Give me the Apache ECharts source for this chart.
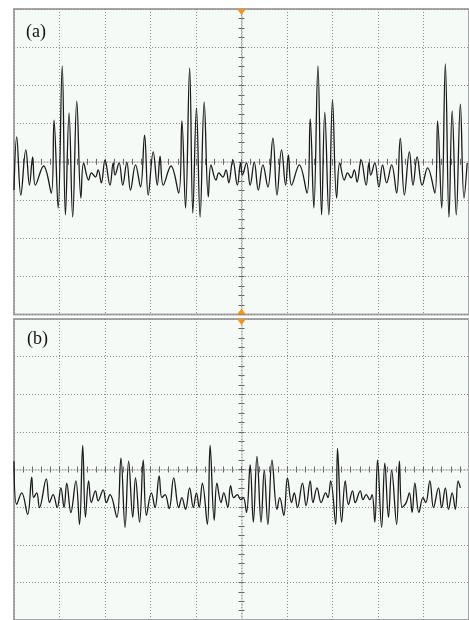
<!DOCTYPE html>
<html><head><meta charset="utf-8">
<script src="https://cdn.jsdelivr.net/npm/echarts@6.0.0/dist/echarts.min.js"></script>
<style>html,body{margin:0;padding:0;background:#fff}#c{width:469px;height:620px}</style>
</head><body><div id="c"></div>
<script>
// Panel labels
const panelLabels = ['(a)', '(b)'];

// Panel (a): time in divisions (trigger at 0), voltage in divisions
const timeA = [-5.00,-4.94,-4.85,-4.74,-4.66,-4.59,-4.53,-4.35,-4.18,-4.12,-4.03,-3.94,-3.87,-3.79,-3.71,-3.62,-3.53,-3.47,-3.36,-3.30,-3.21,-3.15,-3.08,-3.00,-2.89,-2.82,-2.78,-2.69,-2.61,-2.52,-2.44,-2.33,-2.22,
-2.13,-2.05,-1.94,-1.85,-1.79,-1.72,-1.55,-1.38,-1.31,-1.23,-1.14,-1.07,-0.99,-0.91,-0.82,-0.73,-0.67,-0.56,-0.50,-0.41,-0.34,-0.28,-0.19,-0.09,-0.02,0.02,0.11,0.19,0.28,0.37,0.47,0.58,
0.69,0.78,0.88,0.97,1.03,1.10,1.27,1.44,1.51,1.59,1.68,1.76,1.83,1.92,2.00,2.09,2.16,2.26,2.33,2.41,2.48,2.54,2.63,2.74,2.80,2.84,2.93,3.02,3.10,3.19,3.30,3.41,
3.49,3.58,3.69,3.77,3.86,3.97,4.09,4.25,4.31,4.40,4.48,4.56,4.63,4.72,4.81,4.89,4.96];
const voltA = [-0.74,0.65,-0.87,0.31,-0.61,0.13,-0.61,-0.11,-0.82,1.09,-1.21,2.51,-1.39,1.28,-1.45,1.59,-0.95,-0.03,-0.48,-0.29,-0.40,-0.21,-0.55,0.05,-0.61,-0.03,-0.35,-0.03,-0.61,-0.01,-0.74,-0.08,-0.66,
0.70,-0.87,0.26,-0.61,0.15,-0.61,-0.11,-0.82,1.07,-1.21,2.46,-1.34,1.41,-1.45,1.57,-0.92,-0.08,-0.48,-0.29,-0.40,-0.21,-0.55,0.05,-0.61,-0.03,-0.35,-0.03,-0.61,-0.01,-0.74,-0.08,-0.66,
0.62,-0.87,0.31,-0.61,0.18,-0.61,-0.08,-0.82,1.12,-1.21,2.51,-1.39,1.30,-1.39,1.62,-0.95,-0.03,-0.48,-0.29,-0.42,-0.21,-0.53,0.05,-0.61,-0.03,-0.35,-0.03,-0.66,-0.08,-0.55,-0.08,-0.82,
0.62,-0.87,0.26,-0.61,0.13,-0.61,-0.16,-0.82,1.07,-1.21,2.56,-1.45,1.33,-1.39,1.51,-0.95,-0.03];

// Panel (b)
const timeB = [-5.00,-4.94,-4.83,-4.70,-4.61,-4.57,-4.50,-4.44,-4.29,-4.22,
-4.14,-4.05,-3.97,-3.90,-3.84,-3.75,-3.64,-3.56,-3.49,-3.43,
-3.36,-3.30,-3.21,-3.15,-3.04,-2.97,-2.89,-2.74,-2.65,-2.56,
-2.48,-2.39,-2.33,-2.24,-2.16,-2.09,-1.98,-1.90,-1.81,-1.75,
-1.68,-1.59,-1.49,-1.38,-1.31,-1.23,-1.14,-1.06,-0.99,-0.93,
-0.86,-0.75,-0.69,-0.60,-0.54,-0.45,-0.39,-0.30,-0.24,-0.17,
-0.09,-0.02,0.04,0.11,0.19,0.26,0.34,0.43,0.50,0.58,
0.67,0.78,0.84,0.93,1.01,1.10,1.16,1.23,1.34,1.42,
1.51,1.57,1.66,1.75,1.85,1.90,1.96,2.07,2.11,2.20,
2.28,2.35,2.44,2.50,2.61,2.67,2.74,2.82,2.87,2.93,
2.99,3.08,3.15,3.23,3.30,3.41,3.47,3.53,3.62,3.69,
3.75,3.81,3.90,3.99,4.05,4.14,4.22,4.33,4.40,4.48,
4.55,4.63,4.70,4.76,4.81];
const voltB = [0.22,-0.93,-0.62,-1.19,-0.20,-0.75,-0.62,-1.01,-0.25,-0.88,
-0.67,-1.01,-0.49,-1.01,-0.36,-1.14,-0.30,-1.46,0.64,-1.27,
-0.30,-0.88,-0.57,-0.83,-0.54,-0.88,-0.67,-1.27,0.30,-1.54,
0.22,-1.27,-0.22,-1.40,0.25,-1.22,-0.62,-1.01,-0.17,-0.75,
-0.67,-1.04,-0.22,-1.01,-0.75,-1.06,-0.49,-1.01,-0.62,-1.01,
-0.36,-1.46,0.64,-1.35,-0.36,-0.88,-0.62,-1.01,-0.43,-0.75,
-0.67,-0.80,-0.75,-1.14,0.12,-1.40,0.35,-1.40,-0.02,-1.46,
0.25,-1.06,-0.75,-1.22,-0.22,-0.88,-0.62,-1.01,-0.36,-0.96,
-0.30,-0.88,-0.49,-0.88,-0.62,-0.75,-0.30,-1.46,0.56,-1.40,
-0.30,-0.93,-0.57,-0.88,-0.57,-0.80,-0.67,-0.80,-0.67,-1.40,
0.25,-1.54,0.17,-1.27,-0.02,-1.46,0.22,-1.01,-0.88,-0.62,
-1.14,-0.36,-1.14,-0.75,-0.88,-0.30,-1.01,-0.49,-1.01,-0.49,
-1.06,-0.62,-1.06,-0.30,-0.49];

const chart = echarts.init(document.getElementById('c'), null, {renderer: 'canvas'});
const gridCol = '#8c8c8c';
const tickCol = '#666';
const bg = '#f5faf7';

function xAxesFor(g) {
  return [
    {type:'value', gridIndex:g, min:-5, max:5, interval:1, position:'bottom',
     axisLine:{show:true, onZero:true, lineStyle:{color:'#b4b4b4', width:1.5, type:[1,2]}},
     axisTick:{show:true, inside:true, length:3, lineStyle:{color:tickCol}},
     minorTick:{show:true, splitNumber:5, length:3, lineStyle:{color:tickCol}},
     axisLabel:{show:false},
     splitLine:{show:true, lineStyle:{color:gridCol, type:[1,2], width:1}}},
    {type:'value', gridIndex:g, min:-5, max:5, interval:1, position:'top',
     axisLine:{show:false, onZero:true},
     axisTick:{show:true, inside:true, length:3, lineStyle:{color:tickCol}},
     minorTick:{show:true, splitNumber:5, length:3, lineStyle:{color:tickCol}},
     axisLabel:{show:false}, splitLine:{show:false}}
  ];
}
function yAxesFor(g) {
  return [
    {type:'value', gridIndex:g, min:-4, max:4, interval:1, position:'left',
     axisLine:{show:true, onZero:true, lineStyle:{color:'#b4b4b4', width:1.5, type:[1,2]}},
     axisTick:{show:true, inside:true, length:3, lineStyle:{color:tickCol}},
     minorTick:{show:true, splitNumber:4, length:3, lineStyle:{color:tickCol}},
     axisLabel:{show:false},
     splitLine:{show:true, lineStyle:{color:gridCol, type:[1,2], width:1}}},
    {type:'value', gridIndex:g, min:-4, max:4, interval:1, position:'right',
     axisLine:{show:false, onZero:true},
     axisTick:{show:true, inside:true, length:3, lineStyle:{color:tickCol}},
     minorTick:{show:true, splitNumber:4, length:3, lineStyle:{color:tickCol}},
     axisLabel:{show:false}, splitLine:{show:false}}
  ];
}

const triStyle = {color:'#f7941d'};
const labelStyle = {fontFamily:'Liberation Serif', fontSize:18, fontWeight:'normal', color:'#111'};

chart.setOption({
  backgroundColor:'#ffffff',
  animation:false,
  title:[
    {text:panelLabels[0], left:26, top:23, padding:0, textStyle:labelStyle},
    {text:panelLabels[1], left:27, top:330, padding:0, textStyle:labelStyle}
  ],
  grid:[
    {left:14, top:9, width:464, height:305.6, show:true, backgroundColor:bg, borderColor:'#a6a6a6', borderWidth:2},
    {left:14, top:319, width:464, height:305.6, show:true, backgroundColor:bg, borderColor:'#a6a6a6', borderWidth:2}
  ],
  xAxis: xAxesFor(0).concat(xAxesFor(1)),
  yAxis: yAxesFor(0).concat(yAxesFor(1)),
  series:[
    {type:'line', xAxisIndex:0, yAxisIndex:0, symbol:'none', smooth:0.4, z:5,
     data: timeA.map((t,i)=>[t, voltA[i]]),
     lineStyle:{color:'#1a1a1a', width:1.3},
     markPoint:{symbol:'triangle', symbolSize:[9,6], itemStyle:triStyle, label:{show:false}, silent:true,
       data:[{coord:[0,4], symbolRotate:180, symbolOffset:[0,3]}, {coord:[0,-4], symbolRotate:0, symbolOffset:[0,-3]}]}},
    {type:'line', xAxisIndex:2, yAxisIndex:2, symbol:'none', smooth:0.4, z:5,
     data: timeB.map((t,i)=>[t, voltB[i]]),
     lineStyle:{color:'#1a1a1a', width:1.3},
     markPoint:{symbol:'triangle', symbolSize:[9,6], itemStyle:triStyle, label:{show:false}, silent:true,
       data:[{coord:[0,4], symbolRotate:180, symbolOffset:[0,3]}]}}
  ]
});
</script>
</body></html>
